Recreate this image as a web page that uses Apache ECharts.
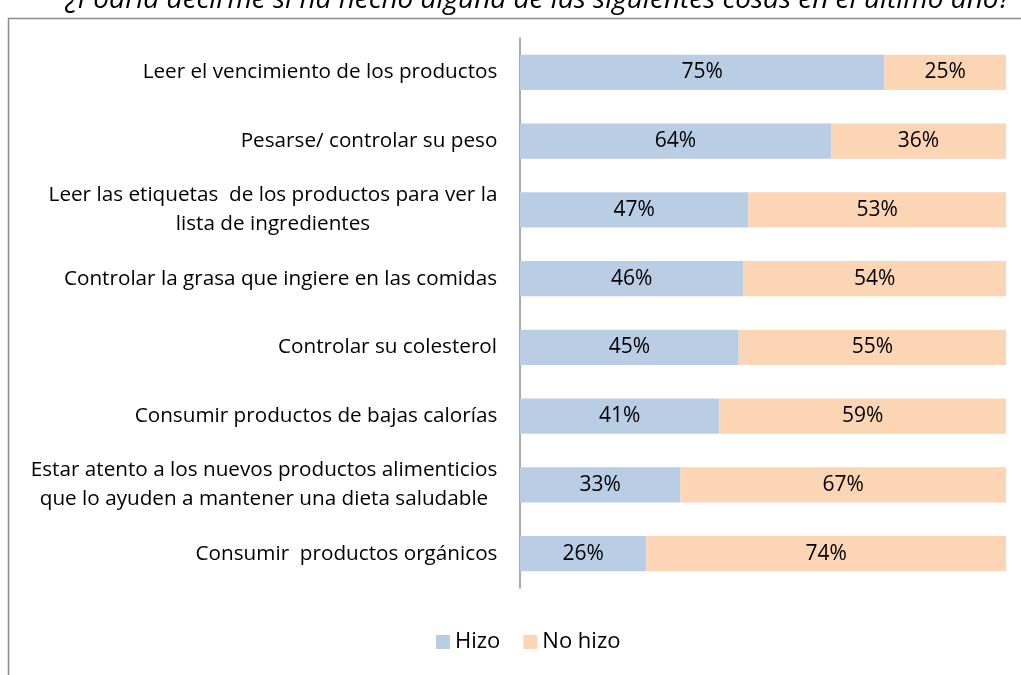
<!DOCTYPE html>
<html>
<head>
<meta charset="utf-8">
<script src="https://cdn.jsdelivr.net/npm/echarts@6/dist/echarts.min.js"></script>
<style>
  html, body { margin: 0; padding: 0; background: #fff; }
  #chart { width: 1021px; height: 675px; }
</style>
</head>
<body>
<div id="chart"></div>
<script>
  const titleText = '¿Podría decirme si ha hecho alguna de las siguientes cosas en el último año?';
  const categories = [
    'Leer el vencimiento de los productos',
    'Pesarse/ controlar su peso',
    'Leer las etiquetas  de los productos para ver la\nlista de ingredientes',
    'Controlar la grasa que ingiere en las comidas',
    'Controlar su colesterol',
    'Consumir productos de bajas calorías',
    'Estar atento a los nuevos productos alimenticios\nque lo ayuden a mantener una dieta saludable',
    'Consumir  productos orgánicos'
  ];
  const hizo = [75, 64, 47, 46, 45, 41, 33, 26];
  const noHizo = [25, 36, 53, 54, 55, 59, 67, 74];

  const labelSize = 20.7;
  const ctx = document.createElement('canvas').getContext('2d');
  ctx.font = labelSize + 'px "Open Sans"';
  function maxLineWidth(s) {
    return Math.max(...s.split('\n').map(l => ctx.measureText(l).width));
  }

  // each label gets its own rich style so wrapped lines are centred in their block
  const richStyles = {};
  categories.forEach((c, i) => {
    richStyles['c' + i] = {
      fontFamily: 'Open Sans',
      fontSize: labelSize,
      lineHeight: 29,
      color: '#000',
      width: Math.ceil(maxLineWidth(c)) + 1,
      align: 'center'
    };
  });

  const chart = echarts.init(document.getElementById('chart'));

  chart.setOption({
    animation: false,
    title: {
      text: titleText,
      left: 533,
      textAlign: 'center',
      top: -19,
      textStyle: {
        fontFamily: 'Open Sans',
        fontStyle: 'italic',
        fontWeight: 'normal',
        fontSize: 28,
        color: '#000'
      }
    },
    graphic: [{
      type: 'rect',
      shape: { x: 8.5, y: 18.5, width: 1100, height: 800 },
      style: { fill: 'none', stroke: '#8c8c8c', lineWidth: 1.5 },
      silent: true
    }],
    legend: {
      bottom: 17,
      left: 431,
      icon: 'rect',
      itemWidth: 14,
      itemHeight: 14,
      itemGap: 23,
      textStyle: { fontFamily: 'Open Sans', fontSize: 22, color: '#000' },
      data: ['Hizo', 'No hizo']
    },
    grid: { left: 520, right: 15, top: 38, bottom: 87, containLabel: false },
    xAxis: {
      type: 'value',
      min: 0,
      max: 100,
      show: false
    },
    yAxis: {
      type: 'category',
      inverse: true,
      data: categories,
      axisLine: { lineStyle: { color: '#8c8c8c', width: 1.5 } },
      axisTick: { show: false },
      axisLabel: {
        margin: 22,
        color: '#000',
        formatter: function (v, idx) {
          return v.split('\n').map(l => '{c' + idx + '|' + l + '}').join('\n');
        },
        rich: richStyles
      }
    },
    series: [
      {
        name: 'Hizo',
        type: 'bar',
        stack: 'total',
        barWidth: '51%',
        data: hizo,
        itemStyle: { color: '#b9cde5' },
        label: { show: true, position: 'inside', formatter: '{c}%', fontFamily: 'Open Sans', fontSize: 21, color: '#000' }
      },
      {
        name: 'No hizo',
        type: 'bar',
        stack: 'total',
        barWidth: '51%',
        data: noHizo,
        itemStyle: { color: '#fcd5b5' },
        label: { show: true, position: 'inside', formatter: '{c}%', fontFamily: 'Open Sans', fontSize: 21, color: '#000' }
      }
    ]
  });
</script>
</body>
</html>
